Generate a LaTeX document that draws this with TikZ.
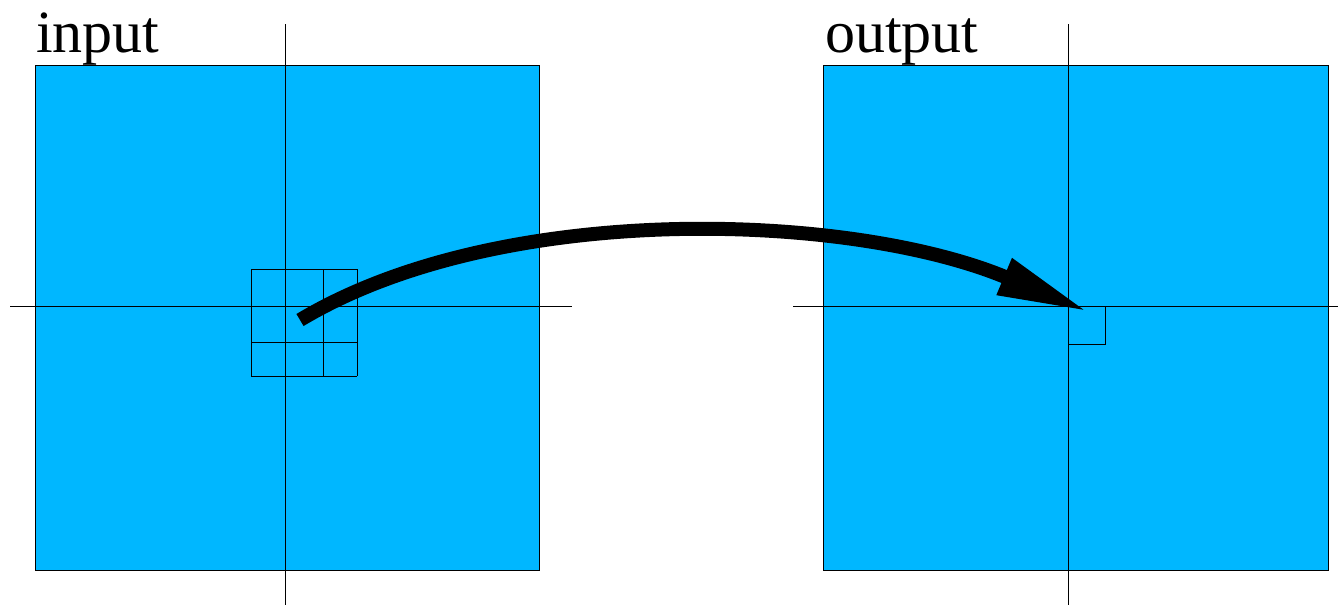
\documentclass[tikz,border=0pt]{standalone}
\usepackage{fontspec}
\setmainfont{Liberation Serif}
\usetikzlibrary{arrows.meta}
\definecolor{planeblue}{RGB}{0,183,255}
\begin{document}
\begin{tikzpicture}[x=1pt,y=-1pt,
  plane/.style={fill=planeblue,draw=black,line width=1pt},
  axis/.style={draw=black,line width=1pt},
  cell/.style={draw=black,line width=1pt},
  lbl/.style={font=\fontsize{60}{60}\selectfont,anchor=base west,inner sep=0pt},
  bigarrow/.style={line width=14pt,-{Triangle[length=92pt,width=36pt]}}]
\useasboundingbox (0,0) rectangle (1338,606);
% left plane
\node[lbl] (inlbl) at (36,52) {input};
\filldraw[plane] (35,65) rectangle (539,570);
\draw[axis] (285,24) -- (285,605);
\draw[axis] (10,306) -- (572,306);
\foreach \x in {251,285,323,357} \draw[cell] (\x,269) -- (\x,376);
\foreach \y in {269,306,342,376} \draw[cell] (251,\y) -- (357,\y);
% right plane
\node[lbl] (outlbl) at (825,52) {output};
\filldraw[plane] (823,65) rectangle (1328,570);
\draw[axis] (1068,24) -- (1068,605);
\draw[axis] (793,306) -- (1338,306);
\draw[cell] (1068,306) rectangle (1105,344);
% arrow
\coordinate (src) at (300,320);
\coordinate (dst) at (1089,312);
\draw[bigarrow] (src) .. controls (500,200) and (850,212) .. (dst);
\end{tikzpicture}
\end{document}
